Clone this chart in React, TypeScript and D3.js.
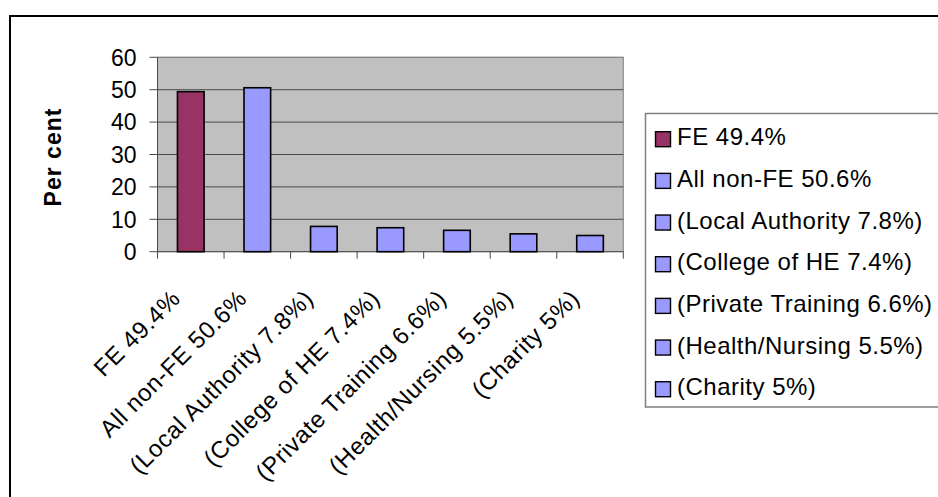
import React from "react";
import * as d3 from "d3";

const categories = [
  "FE 49.4%",
  "All non-FE 50.6%",
  "(Local Authority 7.8%)",
  "(College of HE 7.4%)",
  "(Private Training 6.6%)",
  "(Health/Nursing 5.5%)",
  "(Charity 5%)",
];
const values = [49.4, 50.6, 7.8, 7.4, 6.6, 5.5, 5];
const colors = ["#993366", "#9999FF", "#9999FF", "#9999FF", "#9999FF", "#9999FF", "#9999FF"];
const yTicks = [0, 10, 20, 30, 40, 50, 60];
const yLabel = "Per cent";

const W = 938;
const H = 497;
const plot = { left: 157.5, top: 57.3, right: 623.3, bottom: 251.7 };
const FONT = "'Liberation Sans', Arial, sans-serif";

export default function App() {
  const x = d3
    .scaleBand<string>()
    .domain(categories)
    .range([plot.left, plot.right])
    .paddingInner(0.6)
    .paddingOuter(0.3);
  const band = d3.scaleBand<string>().domain(categories).range([plot.left, plot.right]);
  const y = d3.scaleLinear().domain([0, 60]).range([plot.bottom, plot.top]);
  const gridColor = "#4a4a4a";

  const legend = { left: 645.5, top: 113.5, rowStart: 136.7, rowStep: 41.67 };

  return (
    <svg
      width={W}
      height={H}
      style={{ position: "absolute", left: 0, top: 0, background: "#fff" }}
      fontFamily={FONT}
    >
      {/* outer frame */}
      <rect x={10} y={16} width={W + 20} height={H + 20} fill="#fff" stroke="#000" strokeWidth={2} />

      {/* plot background */}
      <rect
        x={plot.left}
        y={plot.top}
        width={plot.right - plot.left}
        height={plot.bottom - plot.top}
        fill="#C0C0C0"
        stroke="#808080"
        strokeWidth={1}
      />

      {/* gridlines */}
      {yTicks.map((t) => (
        <line
          key={"g" + t}
          x1={plot.left}
          x2={plot.right}
          y1={y(t)}
          y2={y(t)}
          stroke={t === 60 ? "#808080" : gridColor}
          strokeWidth={1}
        />
      ))}

      {/* y axis */}
      <line x1={plot.left} x2={plot.left} y1={plot.top} y2={plot.bottom} stroke={gridColor} strokeWidth={1} />
      {yTicks.map((t) => (
        <g key={"yt" + t}>
          <line x1={plot.left - 8} x2={plot.left} y1={y(t)} y2={y(t)} stroke={gridColor} strokeWidth={1} />
          <text x={136.5} y={y(t) + 8.3} textAnchor="end" fontSize={23} fill="#000">
            {t}
          </text>
        </g>
      ))}

      {/* x axis ticks */}
      {categories.map((c) => (
        <line
          key={"xt" + c}
          x1={band(c)!}
          x2={band(c)!}
          y1={plot.bottom}
          y2={plot.bottom + 7}
          stroke={gridColor}
          strokeWidth={1}
        />
      ))}
      <line x1={plot.right} x2={plot.right} y1={plot.bottom} y2={plot.bottom + 7} stroke={gridColor} strokeWidth={1} />

      {/* bars */}
      {categories.map((c, i) => (
        <rect
          key={"b" + c}
          x={x(c)!}
          y={y(values[i])}
          width={x.bandwidth()}
          height={y(0) - y(values[i])}
          fill={colors[i]}
          stroke="#000"
          strokeWidth={1.6}
        />
      ))}

      {/* x labels */}
      {categories.map((c) => {
        const cx = band(c)! + band.bandwidth() / 2 - 9;
        return (
          <text
            key={"xl" + c}
            transform={`translate(${cx},${300}) rotate(-45)`}
            textAnchor="end"
            fontSize={24}
            letterSpacing={0.6}
            fill="#000"
          >
            {c}
          </text>
        );
      })}

      {/* y label */}
      <text
        transform={`translate(61,157) rotate(-90)`}
        textAnchor="middle"
        fontSize={23}
        fontWeight="bold"
        letterSpacing={1}
        fill="#000"
      >
        {yLabel}
      </text>

      {/* legend */}
      <rect
        x={legend.left}
        y={legend.top}
        width={W}
        height={407 - legend.top}
        fill="#fff"
        stroke="#808080"
        strokeWidth={1.5}
      />
      {categories.map((c, i) => {
        const cy = legend.rowStart + i * legend.rowStep;
        return (
          <g key={"lg" + c}>
            <rect x={655.5} y={cy - 5} width={15} height={15} fill={colors[i]} stroke="#000" strokeWidth={1.4} />
            <text x={677} y={cy + 8.5} fontSize={24} letterSpacing={0.5} fill="#000">
              {c}
            </text>
          </g>
        );
      })}
    </svg>
  );
}
